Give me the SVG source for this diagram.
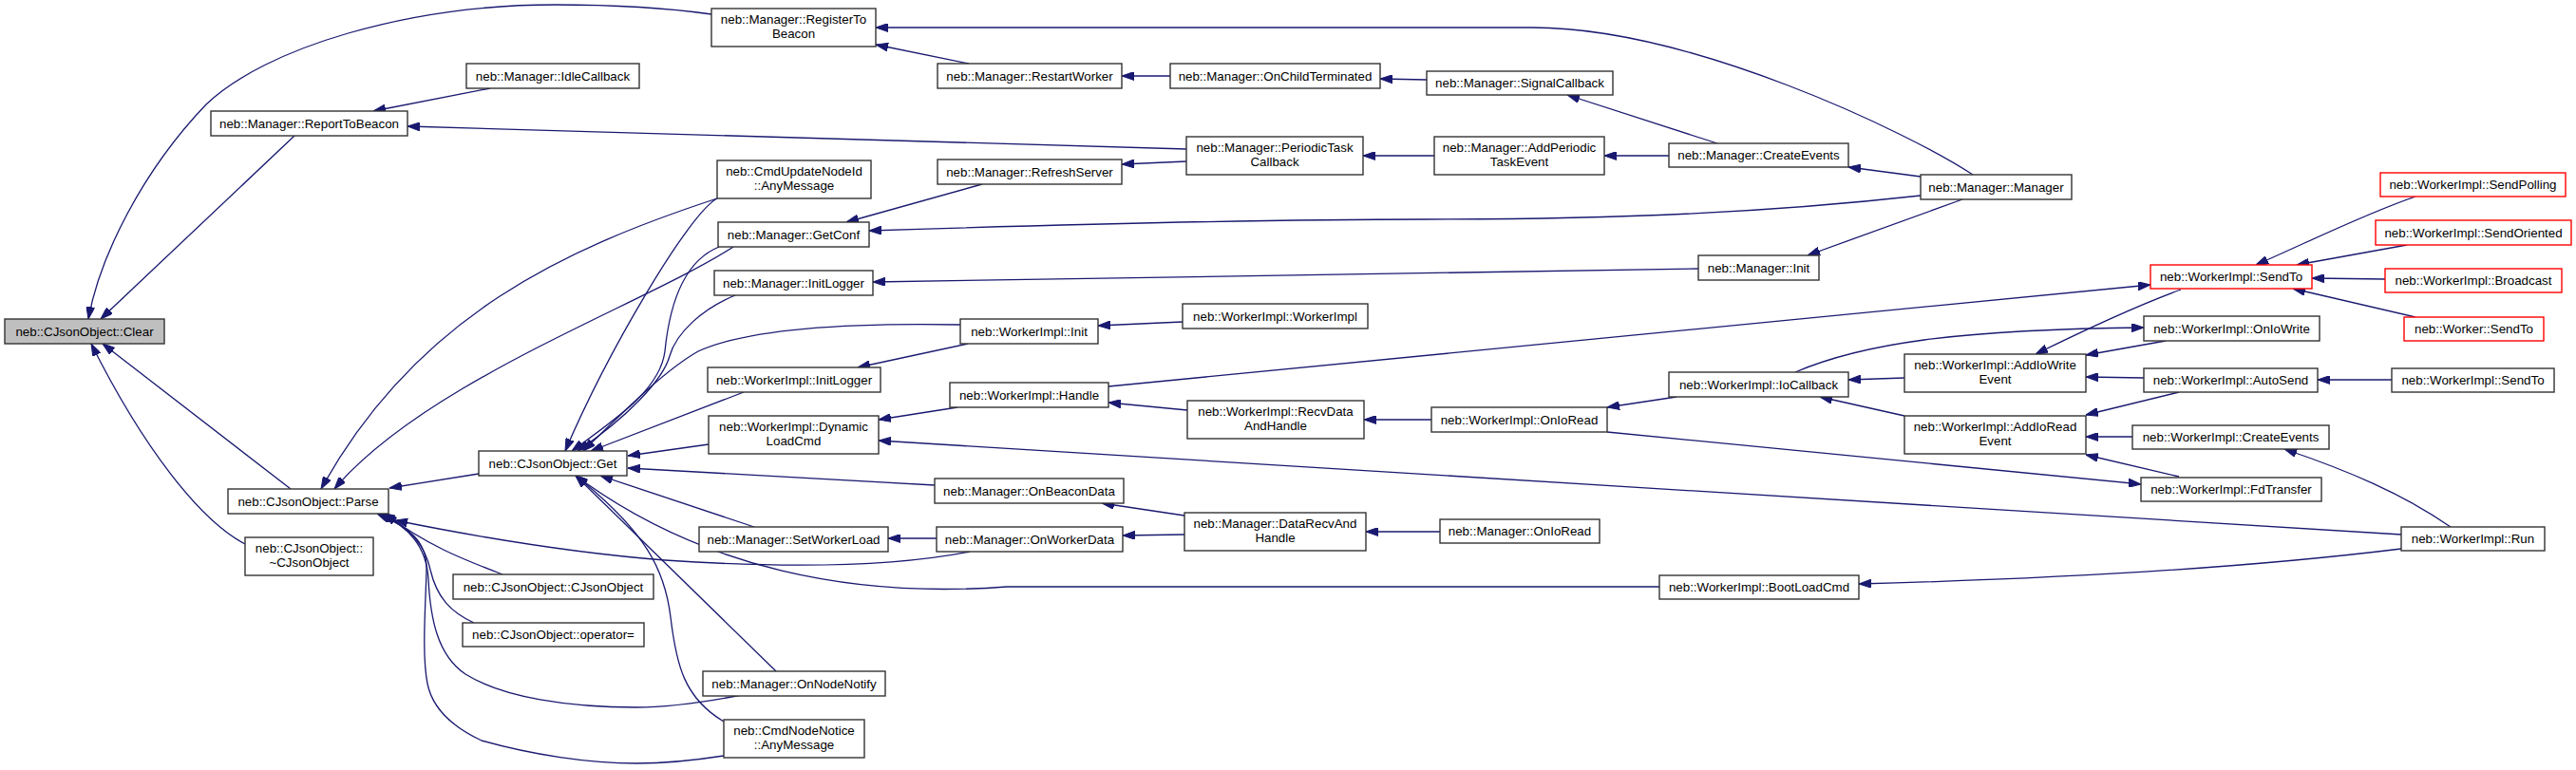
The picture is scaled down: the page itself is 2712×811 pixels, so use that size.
<svg xmlns="http://www.w3.org/2000/svg" width="2712" height="811" viewBox="0 0 2712 811">
<style>
.node rect{fill:#ffffff;stroke:#333333;stroke-width:1.4}
.node.cur rect{fill:#bfbfbf}
.node.red rect{stroke:#ff0000}
.node text{font-family:"Liberation Sans",Arial,sans-serif;font-size:13.33px;fill:#000;text-anchor:middle}
.edges path{fill:none;stroke:#191970;stroke-width:1.3;marker-end:url(#arr)}
</style>
<defs>
<marker id="arr" markerUnits="userSpaceOnUse" markerWidth="13" markerHeight="9" viewBox="0 0 13 9" refX="13" refY="4.5" orient="auto">
<path d="M0,0 L13,4.5 L0,9 Z" fill="#191970" stroke="#191970" stroke-width="1"/>
</marker>
</defs>
<rect width="2712" height="811" fill="#ffffff"/>
<g class="edges" id="edges">
<path d="M749,15 C700,8 640,5 585,5 C430,5 280,50 217,110 C150,180 105,270 93,336"/>
<path d="M310,143 L106,336"/>
<path d="M306,515 L108,362"/>
<path d="M258,573 C210,548 150,470 96,362"/>
<path d="M516,93 L393,117"/>
<path d="M1249,157 L429,133"/>
<path d="M2077,184 C2010,140 1780,29 1613,29 L922,29"/>
<path d="M1020,67 L922,47"/>
<path d="M1232,80 L1181,80"/>
<path d="M1502,84 L1453,83"/>
<path d="M1808,151 L1650,100"/>
<path d="M1510,164 L1435,164"/>
<path d="M1757,164 L1689,164"/>
<path d="M2022,186 L1946,176"/>
<path d="M2022,206 C1860,224 1700,231 1500,231 C1300,231 1100,237 915,243"/>
<path d="M2066,210 L1903,269"/>
<path d="M1788,283 L919,297"/>
<path d="M1034,194 L891,234"/>
<path d="M1249,170 L1181,173"/>
<path d="M1245,339 L1156,343"/>
<path d="M1019,362 L903,387"/>
<path d="M1167,407 L2264,300"/>
<path d="M1890,392 C1960,362 2060,347 2257,345"/>
<path d="M1692,455 L2254,510"/>
<path d="M2296,305 C2255,320 2200,345 2143,373"/>
<path d="M2543,207 C2490,225 2430,255 2375,279"/>
<path d="M2534,258 L2418,279"/>
<path d="M2511,294 L2434,293"/>
<path d="M2543,334 L2414,304"/>
<path d="M2280,359 L2196,374"/>
<path d="M2257,398 L2196,397"/>
<path d="M2518,400 L2440,400"/>
<path d="M2005,398 L1946,400"/>
<path d="M2005,438 L1916,418"/>
<path d="M1765,418 L1692,429"/>
<path d="M1507,442 L1436,442"/>
<path d="M1250,432 L1167,424"/>
<path d="M1008,429 L925,442"/>
<path d="M2528,563 L925,464"/>
<path d="M2528,578 C2350,600 2150,610 1957,615"/>
<path d="M1747,618 L1060,618 C900,630 740,600 606,501"/>
<path d="M817,707 L606,501"/>
<path d="M762,760 C720,735 712,700 706,650 C700,600 680,560 606,501"/>
<path d="M746,468 L661,480"/>
<path d="M984,511 L661,493"/>
<path d="M794,555 L632,501"/>
<path d="M755,209 C725,225 640,370 595,475"/>
<path d="M757,260 C720,275 705,320 700,370 C695,410 650,440 602,475"/>
<path d="M774,311 C740,325 712,350 705,375 C698,400 660,440 608,475"/>
<path d="M1011,342 C900,340 790,345 735,370 C700,390 660,430 614,475"/>
<path d="M783,413 L622,475"/>
<path d="M504,499 L410,514"/>
<path d="M755,209 C600,260 440,330 338,515"/>
<path d="M772,260 C680,320 450,400 352,515"/>
<path d="M529,605 C490,590 450,575 405,541"/>
<path d="M499,656 C475,645 460,630 453,600 C448,575 430,555 403,541"/>
<path d="M781,732 C740,740 700,745 670,745 C600,745 530,735 490,710 C460,690 453,650 451,610 C449,575 430,555 400,541"/>
<path d="M762,796 C730,801 700,804 670,804 C620,804 560,795 507,780 C475,765 455,745 450,720 C444,690 448,640 449,600 C450,570 430,555 397,541"/>
<path d="M1021,581 C950,595 850,600 700,590 C600,582 500,565 416,548"/>
<path d="M986,567 L935,567"/>
<path d="M1247,563 L1182,564"/>
<path d="M1247,543 L1160,530"/>
<path d="M1516,560 L1438,560"/>
<path d="M2580,555 C2530,520 2470,495 2405,473"/>
<path d="M2245,460 L2196,460"/>
<path d="M2294,502 L2196,479"/>
<path d="M2294,413 L2196,437"/>
</g>
<g id="n0" class="node cur"><rect x="5" y="336" width="168" height="26"/><text x="89" y="353.7">neb::CJsonObject::Clear</text></g>
<g id="n1" class="node"><rect x="749" y="9" width="173" height="40"/><text x="835.5" y="25.3">neb::Manager::RegisterTo</text><text x="835.5" y="40">Beacon</text></g>
<g id="n2" class="node"><rect x="222" y="117" width="207" height="26"/><text x="325.5" y="134.7">neb::Manager::ReportToBeacon</text></g>
<g id="n3" class="node"><rect x="240" y="515" width="169" height="26"/><text x="324.5" y="532.7">neb::CJsonObject::Parse</text></g>
<g id="n4" class="node"><rect x="258" y="566" width="135" height="40"/><text x="325.5" y="582.3">neb::CJsonObject::</text><text x="325.5" y="597">~CJsonObject</text></g>
<g id="n5" class="node"><rect x="491" y="67" width="182" height="26"/><text x="582" y="84.7">neb::Manager::IdleCallback</text></g>
<g id="n6" class="node"><rect x="1249" y="144" width="186" height="40"/><text x="1342" y="160.3">neb::Manager::PeriodicTask</text><text x="1342" y="175">Callback</text></g>
<g id="n7" class="node"><rect x="2022" y="184" width="159" height="26"/><text x="2101.5" y="201.7">neb::Manager::Manager</text></g>
<g id="n8" class="node"><rect x="987" y="67" width="194" height="26"/><text x="1084" y="84.7">neb::Manager::RestartWorker</text></g>
<g id="n9" class="node"><rect x="1232" y="67" width="221" height="26"/><text x="1342.5" y="84.7">neb::Manager::OnChildTerminated</text></g>
<g id="n10" class="node"><rect x="1502" y="75" width="196" height="25"/><text x="1600" y="92.2">neb::Manager::SignalCallback</text></g>
<g id="n11" class="node"><rect x="1510" y="144" width="179" height="40"/><text x="1599.5" y="160.3">neb::Manager::AddPeriodic</text><text x="1599.5" y="175">TaskEvent</text></g>
<g id="n12" class="node"><rect x="1757" y="151" width="189" height="25"/><text x="1851.5" y="168.2">neb::Manager::CreateEvents</text></g>
<g id="n13" class="node"><rect x="755" y="169" width="162" height="40"/><text x="836" y="185.3">neb::CmdUpdateNodeId</text><text x="836" y="200">::AnyMessage</text></g>
<g id="n14" class="node"><rect x="756" y="234" width="159" height="26"/><text x="835.5" y="251.7">neb::Manager::GetConf</text></g>
<g id="n15" class="node"><rect x="987" y="168" width="194" height="26"/><text x="1084" y="185.7">neb::Manager::RefreshServer</text></g>
<g id="n16" class="node"><rect x="752" y="285" width="167" height="26"/><text x="835.5" y="302.7">neb::Manager::InitLogger</text></g>
<g id="n17" class="node"><rect x="1788" y="269" width="127" height="26"/><text x="1851.5" y="286.7">neb::Manager::Init</text></g>
<g id="n18" class="node"><rect x="1011" y="336" width="145" height="26"/><text x="1083.5" y="353.7">neb::WorkerImpl::Init</text></g>
<g id="n19" class="node"><rect x="1245" y="320" width="195" height="26"/><text x="1342.5" y="337.7">neb::WorkerImpl::WorkerImpl</text></g>
<g id="n20" class="node"><rect x="745" y="387" width="182" height="26"/><text x="836" y="404.7">neb::WorkerImpl::InitLogger</text></g>
<g id="n21" class="node"><rect x="504" y="475" width="156" height="26"/><text x="582" y="492.7">neb::CJsonObject::Get</text></g>
<g id="n22" class="node"><rect x="746" y="438" width="179" height="40"/><text x="835.5" y="454.3">neb::WorkerImpl::Dynamic</text><text x="835.5" y="469">LoadCmd</text></g>
<g id="n23" class="node"><rect x="1000" y="403" width="167" height="26"/><text x="1083.5" y="420.7">neb::WorkerImpl::Handle</text></g>
<g id="n24" class="node"><rect x="1250" y="422" width="186" height="40"/><text x="1343" y="438.3">neb::WorkerImpl::RecvData</text><text x="1343" y="453">AndHandle</text></g>
<g id="n25" class="node"><rect x="1507" y="429" width="185" height="26"/><text x="1599.5" y="446.7">neb::WorkerImpl::OnIoRead</text></g>
<g id="n26" class="node"><rect x="1757" y="392" width="189" height="26"/><text x="1851.5" y="409.7">neb::WorkerImpl::IoCallback</text></g>
<g id="n27" class="node"><rect x="2005" y="373" width="191" height="40"/><text x="2100.5" y="389.3">neb::WorkerImpl::AddIoWrite</text><text x="2100.5" y="404">Event</text></g>
<g id="n28" class="node"><rect x="2005" y="438" width="191" height="40"/><text x="2100.5" y="454.3">neb::WorkerImpl::AddIoRead</text><text x="2100.5" y="469">Event</text></g>
<g id="n29" class="node red"><rect x="2264" y="279" width="170" height="25"/><text x="2349" y="296.2">neb::WorkerImpl::SendTo</text></g>
<g id="n30" class="node red"><rect x="2506" y="182" width="195" height="25"/><text x="2603.5" y="199.2">neb::WorkerImpl::SendPolling</text></g>
<g id="n31" class="node red"><rect x="2501" y="232" width="206" height="26"/><text x="2604" y="249.7">neb::WorkerImpl::SendOriented</text></g>
<g id="n32" class="node red"><rect x="2511" y="283" width="186" height="25"/><text x="2604" y="300.2">neb::WorkerImpl::Broadcast</text></g>
<g id="n33" class="node red"><rect x="2531" y="334" width="147" height="25"/><text x="2604.5" y="351.2">neb::Worker::SendTo</text></g>
<g id="n34" class="node"><rect x="2257" y="333" width="185" height="26"/><text x="2349.5" y="350.7">neb::WorkerImpl::OnIoWrite</text></g>
<g id="n35" class="node"><rect x="2257" y="388" width="183" height="25"/><text x="2348.5" y="405.2">neb::WorkerImpl::AutoSend</text></g>
<g id="n36" class="node"><rect x="2518" y="388" width="171" height="25"/><text x="2603.5" y="405.2">neb::WorkerImpl::SendTo</text></g>
<g id="n37" class="node"><rect x="2245" y="448" width="207" height="25"/><text x="2348.5" y="465.2">neb::WorkerImpl::CreateEvents</text></g>
<g id="n38" class="node"><rect x="2254" y="503" width="190" height="25"/><text x="2349" y="520.2">neb::WorkerImpl::FdTransfer</text></g>
<g id="n39" class="node"><rect x="2528" y="555" width="151" height="25"/><text x="2603.5" y="572.2">neb::WorkerImpl::Run</text></g>
<g id="n40" class="node"><rect x="984" y="504" width="199" height="26"/><text x="1083.5" y="521.7">neb::Manager::OnBeaconData</text></g>
<g id="n41" class="node"><rect x="1247" y="540" width="191" height="40"/><text x="1342.5" y="556.3">neb::Manager::DataRecvAnd</text><text x="1342.5" y="571">Handle</text></g>
<g id="n42" class="node"><rect x="1516" y="547" width="168" height="25"/><text x="1600" y="564.2">neb::Manager::OnIoRead</text></g>
<g id="n43" class="node"><rect x="736" y="555" width="199" height="26"/><text x="835.5" y="572.7">neb::Manager::SetWorkerLoad</text></g>
<g id="n44" class="node"><rect x="986" y="555" width="196" height="26"/><text x="1084" y="572.7">neb::Manager::OnWorkerData</text></g>
<g id="n45" class="node"><rect x="1747" y="606" width="210" height="25"/><text x="1852" y="623.2">neb::WorkerImpl::BootLoadCmd</text></g>
<g id="n46" class="node"><rect x="477" y="605" width="211" height="26"/><text x="582.5" y="622.7">neb::CJsonObject::CJsonObject</text></g>
<g id="n47" class="node"><rect x="487" y="656" width="191" height="25"/><text x="582.5" y="673.2">neb::CJsonObject::operator=</text></g>
<g id="n48" class="node"><rect x="740" y="707" width="192" height="26"/><text x="836" y="724.7">neb::Manager::OnNodeNotify</text></g>
<g id="n49" class="node"><rect x="762" y="758" width="148" height="40"/><text x="836" y="774.3">neb::CmdNodeNotice</text><text x="836" y="789">::AnyMessage</text></g>
</svg>
